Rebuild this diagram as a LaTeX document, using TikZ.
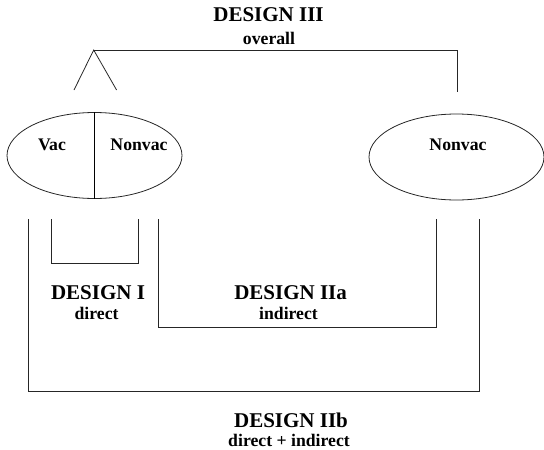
\documentclass[tikz,border=0pt]{standalone}
\usepackage{fontspec}
\setmainfont{Liberation Serif}
\usetikzlibrary{shapes.geometric}

\begin{document}
\begin{tikzpicture}[
        x=1pt,y=-1pt,
        every node/.style={inner sep=0pt},
        line/.style={line width=0.8pt,black!85},
        divider/.style={line width=1.5pt,black},
        title/.style={font=\fontsize{21}{24}\selectfont\bfseries},
        subtitle/.style={font=\fontsize{17.7}{20}\selectfont\bfseries},
        group/.style={ellipse,draw,line width=0.8pt,black!85,
            minimum width=175pt,minimum height=86pt}
    ]
    \useasboundingbox (0,0) rectangle (544,450);

    % Populations
    \node[group] (pool) at (94.5,155.5) {};
    \draw[divider] (pool.north) -- (pool.south);
    \node[subtitle] (vac) at (52,145) {Vac};
    \node[subtitle] (nonvacL) at (139,145) {Nonvac};

    \node[group] (other) at (456.5,157) {};
    \node[subtitle] (nonvacR) at (458,145) {Nonvac};

    % Overall comparison
    \coordinate (apex) at (93.7,50);
    \draw[line] (74,90) -- (apex) -- (116.6,90);
    \draw[line] (apex) -- (457,50) -- (457,92);

    \node[title] (d3) at (268.5,15) {DESIGN III};
    \node[subtitle] (d3sub) at (269,38) {overall};

    % Direct effect
    \draw[line] (51,219) |- (138,263) -- (138,219);
    \node[title] (d1) at (98,293) {DESIGN I};
    \node[subtitle] (d1sub) at (96.6,313) {direct};

    % Indirect effect
    \draw[line] (158.6,219) |- (436,327) -- (436,219);
    \node[title] (d2a) at (290.6,293) {DESIGN IIa};
    \node[subtitle] (d2asub) at (288.5,313) {indirect};

    % Direct + indirect
    \draw[line] (28.5,219) |- (479,391) -- (479,219);
    \node[title] (d2b) at (291,420.5) {DESIGN IIb};
    \node[subtitle] (d2bsub) at (289,440) {direct + indirect};

\end{tikzpicture}
\end{document}
